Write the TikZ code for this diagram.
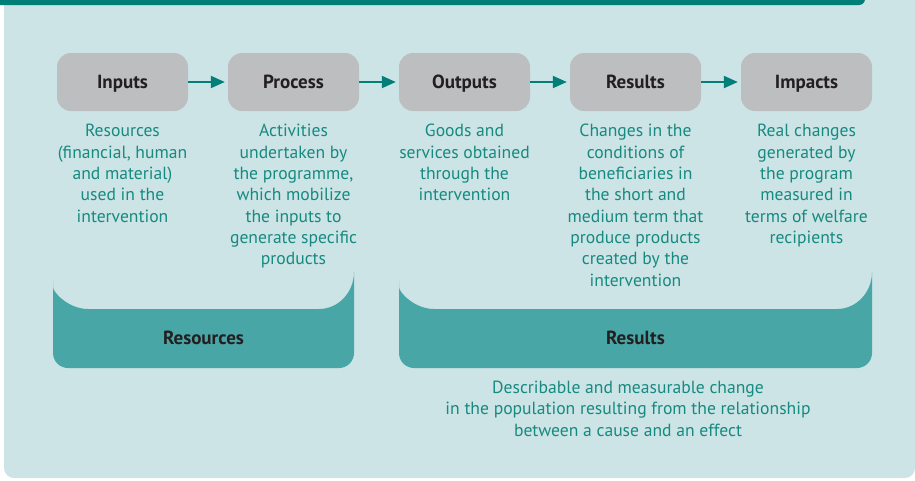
\documentclass[tikz,border=0pt]{standalone}
\usepackage{fontspec}
\setmainfont{PT Sans}
\usepackage{xcolor}
\usetikzlibrary{positioning,arrows.meta}
\definecolor{paper}{HTML}{CCE4E6}
\definecolor{bar}{HTML}{007F78}
\definecolor{boxgray}{HTML}{BDBEC0}
\definecolor{band}{HTML}{49A6A7}
\definecolor{ink}{HTML}{231F20}
\definecolor{tealtxt}{HTML}{168A80}
\tikzset{
  stage/.style={fill=boxgray, rounded corners=14pt, minimum width=131pt, minimum height=58pt, inner sep=0pt, text height=16pt, text depth=3pt, text=ink, font=\fontsize{19}{21}\selectfont\bfseries},
  desc/.style={text=tealtxt, align=center, inner sep=0pt, font=\fontsize{17.6}{21.3}\selectfont},
  flow/.style={draw=bar, line width=2pt, -{Triangle[length=14pt,width=12pt]}, shorten >=3pt},
  grp/.style={fill=band},
  grplab/.style={text=ink, font=\fontsize{19}{21}\selectfont\bfseries},
}

\begin{document}
\begin{tikzpicture}[x=1pt,y=-1pt]
  \useasboundingbox (0,0) rectangle (915,480);
  % panel and top bar
  \fill[paper, rounded corners=10pt] (4,-30) rectangle (915,478);
  \fill[bar, rounded corners=6pt] (-20,-30) rectangle (865,5);

  % group bands
  \fill[grp] (53,272) arc[start angle=180, end angle=90, x radius=35, y radius=37]
    -- (319,309) arc[start angle=90, end angle=0, x radius=35, y radius=37]
    [rounded corners=15pt] -- (354,368) -- (53,368) -- cycle;
  \fill[grp] (399,272) arc[start angle=180, end angle=90, x radius=35, y radius=37]
    -- (837,309) arc[start angle=90, end angle=0, x radius=35, y radius=37]
    [rounded corners=15pt] -- (872,368) -- (399,368) -- cycle;
  \node[grplab] (resources) at (203.5,338) {Resources};
  \node[grplab] (results) at (635.5,338) {Results};

  % stages
  \foreach \n/\t/\x in {inputs/Inputs/122.5, process/Process/293.5, outputs/Outputs/464.5, result/Results/635.5, impacts/Impacts/806.5}{
    \node[stage] (\n) at (\x,82) {\t};
  }
  \foreach \a/\b in {inputs/process, process/outputs, outputs/result, result/impacts}{
    \draw[flow] (\a) -- (\b);
  }

  % descriptions
  \node[desc, below=13pt of inputs] (dinputs) {Resources\\(financial, human\\and material)\\used in the\\intervention};
  \node[desc, below=13pt of process] (dprocess) {Activities\\undertaken by\\the programme,\\which mobilize\\the inputs to\\generate specific\\products};
  \node[desc, below=13pt of outputs] (doutputs) {Goods and\\services obtained\\through the\\intervention};
  \node[desc, below=13pt of result] (dresult) {Changes in the\\conditions of\\beneficiaries in\\the short and\\medium term that\\produce products\\created by the\\intervention};
  \node[desc, below=13pt of impacts] (dimpacts) {Real changes\\generated by\\the program\\measured in\\terms of welfare\\recipients};

  \node[desc, anchor=north] (effect) at (628,381) {Describable and measurable change\\in the population resulting from the relationship\\between a cause and an effect};
\end{tikzpicture}
\end{document}
